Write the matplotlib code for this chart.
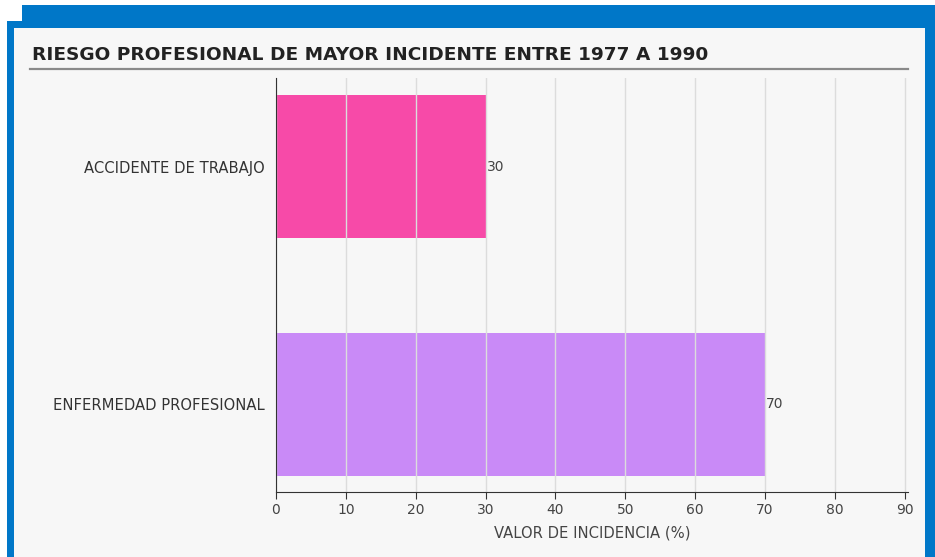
import matplotlib
matplotlib.use("Agg")
import matplotlib.pyplot as plt
from matplotlib.patches import Rectangle

categories = ["ACCIDENTE DE TRABAJO", "ENFERMEDAD PROFESIONAL"]
values = [30, 70]
bar_colors = ["#F74AA8", "#C98AF7"]
x_ticks = [0, 10, 20, 30, 40, 50, 60, 70, 80, 90]
title = "RIESGO PROFESIONAL DE MAYOR INCIDENTE ENTRE 1977 A 1990"
x_label = "VALOR DE INCIDENCIA (%)"

W, H = 935, 557
fig = plt.figure(figsize=(W / 100, H / 100), dpi=100, facecolor="white")


def px_rect(x0, y0, x1, y1, color):
    # rectangle given in pixel coords (origin top-left)
    fig.patches.append(Rectangle((x0 / W, 1 - y1 / H), (x1 - x0) / W, (y1 - y0) / H,
                                 transform=fig.transFigure, facecolor=color,
                                 edgecolor="none", zorder=-5))


# blue frame and light panel
px_rect(22, 5, W, H, "#0077C8")
px_rect(7, 21, W, H, "#0077C8")
px_rect(14, 28, 925, H, "#F7F7F7")

fig.text(32 / W, 1 - 55 / H, title, fontsize=13.3, fontweight="bold",
         color="#222222", va="center", ha="left")
fig.lines.append(plt.Line2D([30 / W, 908 / W], [1 - 69 / H, 1 - 69 / H],
                            transform=fig.transFigure, color="#8a8a8a", lw=1.6))

ax = fig.add_axes([276 / W, 1 - 492 / H, (907.6 - 276) / W, (492 - 78) / H])
ax.set_facecolor("none")
ax.set_zorder(2)

pos = list(range(len(categories)))
ax.barh(pos, values, height=0.6, color=bar_colors, zorder=2)
for p, v in zip(pos, values):
    ax.text(v + 0.2, p, str(v), va="center", ha="left", fontsize=10, color="#444444")

ax.set_xlim(0, 90.43)
ax.set_ylim(1.368, -0.372)
ax.set_xticks(x_ticks)
ax.set_yticks(pos)
ax.set_yticklabels(categories)
ax.grid(axis="x", color="#dcdcdc", lw=1, zorder=3)
ax.set_axisbelow(False)
ax.tick_params(axis="y", length=0, pad=8, labelsize=10.6, labelcolor="#333333")
ax.tick_params(axis="x", direction="out", length=5, color="#333333",
               labelsize=10, labelcolor="#444444", pad=3)
for s in ["top", "right"]:
    ax.spines[s].set_visible(False)
for s in ["left", "bottom"]:
    ax.spines[s].set_color("#333333")
    ax.spines[s].set_zorder(4)
ax.set_xlabel(x_label, fontsize=10.6, color="#444444", labelpad=6)

fig.savefig("out.png", dpi=100, facecolor="white")
